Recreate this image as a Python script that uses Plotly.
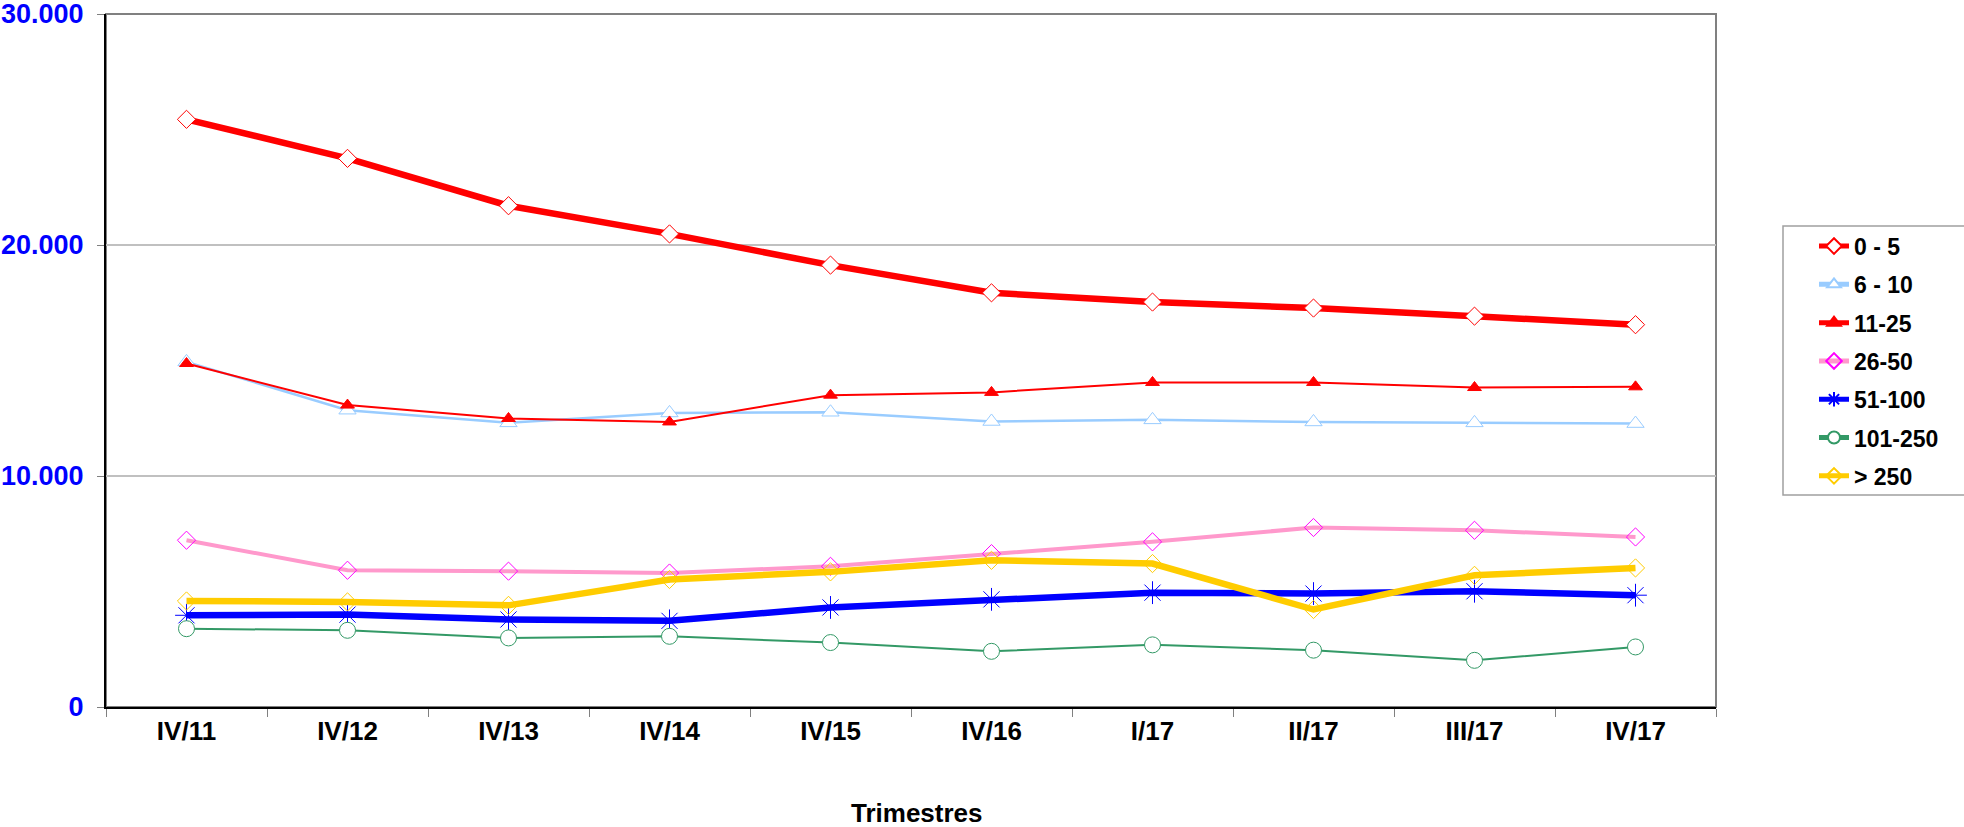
import plotly.graph_objects as go

categories = ["IV/11", "IV/12", "IV/13", "IV/14", "IV/15", "IV/16", "I/17", "II/17", "III/17", "IV/17"]

s_0_5 = [25440, 23750, 21700, 20480, 19130, 17930, 17530, 17270, 16920, 16550]
s_6_10 = [14940, 12850, 12300, 12730, 12760, 12360, 12430, 12340, 12300, 12270]
s_11_25 = [14870, 13070, 12490, 12340, 13500, 13620, 14050, 14050, 13830, 13860]
s_26_50 = [7220, 5920, 5880, 5800, 6090, 6640, 7150, 7770, 7650, 7360]
s_51_100 = [3970, 4000, 3790, 3730, 4310, 4660, 4950, 4910, 5010, 4840]
s_101_250 = [3390, 3320, 2990, 3060, 2790, 2410, 2690, 2460, 2020, 2600]
s_gt_250 = [4590, 4550, 4400, 5520, 5850, 6350, 6210, 4220, 5700, 6020]

names = ["0 - 5", "6 - 10", "11-25", "26-50", "51-100", "101-250", "> 250"]
y_tick_vals = [0, 10000, 20000, 30000]

FONT = "Liberation Sans, Arial, sans-serif"

styles = [
    dict(values=s_0_5, line=dict(color="#FF0000", width=6.5),
         marker=dict(symbol="diamond", size=14, color="white", line=dict(color="#FF0000", width=1))),
    dict(values=s_6_10, line=dict(color="#99CCFF", width=2.5),
         marker=dict(symbol="triangle-up", size=15, color="white", line=dict(color="#99CCFF", width=1))),
    dict(values=s_11_25, line=dict(color="#FF0000", width=2),
         marker=dict(symbol="triangle-up", size=12, color="#FF0000", line=dict(color="#FF0000", width=1))),
    dict(values=s_26_50, line=dict(color="#FF99CC", width=4),
         marker=dict(symbol="diamond-open", size=14, color="#FF00FF", line=dict(color="#FF00FF", width=1))),
    dict(values=s_51_100, line=dict(color="#0000FF", width=6.5),
         marker=dict(symbol="asterisk-open", size=19, color="#0000FF", line=dict(color="#0000FF", width=1))),
    dict(values=s_101_250, line=dict(color="#339966", width=2),
         marker=dict(symbol="circle", size=16, color="white", line=dict(color="#339966", width=1))),
    dict(values=s_gt_250, line=dict(color="#FFCC00", width=6.5),
         marker=dict(symbol="diamond-open", size=14, color="#FFCC00", line=dict(color="#FFCC00", width=1))),
]

fig = go.Figure()
for name, st in zip(names, styles):
    fig.add_trace(go.Scatter(
        x=categories, y=st["values"], name=name, mode="lines+markers",
        line=st["line"], marker=st["marker"], legendgroup=name,
    ))

W, H = 1964, 827
L, R, T, B = 106, 248, 14, 120
PW, PH = W - L - R, H - T - B

fig.update_layout(
    width=W, height=H,
    margin=dict(l=L, r=R, t=T, b=B, autoexpand=False),
    paper_bgcolor="white", plot_bgcolor="white",
    separators=",.",
    font=dict(family=FONT, color="black"),
    showlegend=True,
    legend=dict(
        x=(1814 - L) / PW, y=1 - (224.6 - T) / PH, xanchor="left", yanchor="top",
        font=dict(family=FONT, size=23, color="black", weight="bold"),
        bgcolor="rgba(0,0,0,0)", borderwidth=0,
        tracegroupgap=5.4, itemsizing="constant",
    ),
    xaxis=dict(
        type="category", range=[-0.5, 9.5], automargin=False,
        showline=True, linecolor="black", linewidth=2,
        ticks="outside", tickson="boundaries", ticklen=8, tickcolor="#808080", tickwidth=1,
        tickfont=dict(family=FONT, size=26, color="black", weight="bold"),
        showgrid=False, zeroline=False, ticklabeloverflow="allow",
    ),
    yaxis=dict(
        range=[0, 30000], tickvals=y_tick_vals, tickformat=",d", automargin=False,
        showline=True, linecolor="black", linewidth=2,
        ticks="outside", ticklen=7, tickcolor="#808080", tickwidth=1,
        tickfont=dict(family=FONT, size=27, color="#0000FF", weight="bold"),
        showgrid=True, gridcolor="#C0C0C0", gridwidth=1.5, zeroline=False,
        ticklabelstandoff=8, ticklabeloverflow="allow",
    ),
    annotations=[dict(
        text="<b>Trimestres</b>", xref="paper", yref="paper",
        x=(916.5 - L) / PW, y=-(812.7 - (H - B)) / PH,
        xanchor="center", yanchor="middle", showarrow=False,
        font=dict(family=FONT, size=26, color="black"),
    )],
    shapes=[
        dict(type="rect", xref="paper", yref="paper", x0=0, x1=1, y0=0, y1=1,
             line=dict(color="#808080", width=2), layer="below"),
        dict(type="rect", xref="paper", yref="paper",
             x0=(1783 - L) / PW, x1=(1990 - L) / PW,
             y0=(H - B - 495) / PH, y1=(H - B - 226) / PH,
             line=dict(color="#A0A0A0", width=1.5), fillcolor="rgba(0,0,0,0)", layer="below"),
    ],
)

fig.write_html(
    "out.html",
    config={"displayModeBar": False},
    post_script="document.body.style.margin='0';document.body.style.padding='0';",
)
